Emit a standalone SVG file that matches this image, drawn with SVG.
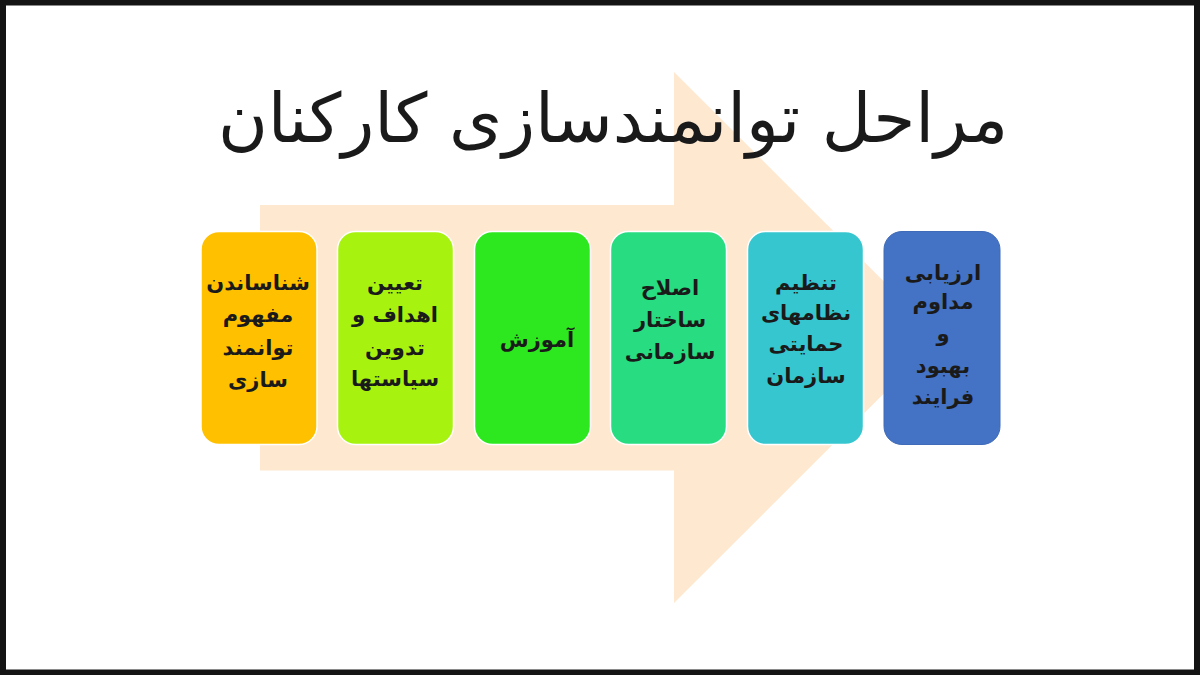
<svg xmlns="http://www.w3.org/2000/svg" width="1200" height="675" viewBox="0 0 1200 675">
<style>
.box{stroke:#ffffff;stroke-width:1.5}
.t{font-family:"DejaVu Sans","Noto Sans",sans-serif;font-weight:bold;font-size:21px;fill:#1a1a1a;text-anchor:middle;direction:rtl}
.title{font-family:"DejaVu Sans","Noto Sans",sans-serif;font-size:68px;fill:#1a1a1a;text-anchor:middle;direction:rtl}
</style>
<rect x="0" y="0" width="1200" height="675" fill="#ffffff"/>
<g id="arrow">
<polygon points="260,205 674,205 674,72 940,337.5 674,603 674,470.5 260,470.5" fill="#FEE8CF"/>
</g>
<g id="title">
<text class="title" x="613" y="142">مراحل توانمندسازی کارکنان</text>
</g>
<g id="connectors"></g>
<g id="step1">
<rect class="box" x="201" y="231.5" width="116" height="213" rx="18" fill="#FFC000"/>
<text class="t" x="258" y="290">شناساندن</text>
<text class="t" x="258" y="322">مفهوم</text>
<text class="t" x="258" y="355">توانمند</text>
<text class="t" x="258" y="387">سازی</text>
</g>
<g id="step2">
<rect class="box" x="337.5" y="231.5" width="116" height="213" rx="18" fill="#A8F20F"/>
<text class="t" x="395" y="290">تعیین</text>
<text class="t" x="395" y="322">اهداف و</text>
<text class="t" x="395" y="355">تدوین</text>
<text class="t" x="395" y="386">سیاستها</text>
</g>
<g id="step3">
<rect class="box" x="474.5" y="231.5" width="116" height="213" rx="18" fill="#2DE81E"/>
<text class="t" x="537" y="347">آموزش</text>
</g>
<g id="step4">
<rect class="box" x="610.5" y="231.5" width="116" height="213" rx="18" fill="#28DC82"/>
<text class="t" x="670" y="295">اصلاح</text>
<text class="t" x="670" y="327">ساختار</text>
<text class="t" x="670" y="359">سازمانی</text>
</g>
<g id="step5">
<rect class="box" x="747.5" y="231.5" width="116" height="213" rx="18" fill="#36C6CF"/>
<text class="t" x="806" y="290">تنظیم</text>
<text class="t" x="806" y="320">نظامهای</text>
<text class="t" x="806" y="351">حمایتی</text>
<text class="t" x="806" y="383">سازمان</text>
</g>
<g id="step6">
<rect x="884" y="231.5" width="116" height="213" rx="18" fill="#4472C4" stroke="#3F6BB8" stroke-width="1"/>
<text class="t" x="943" y="280">ارزیابی</text>
<text class="t" x="943" y="309">مداوم</text>
<text class="t" x="943" y="341">و</text>
<text class="t" x="943" y="373">بهبود</text>
<text class="t" x="943" y="404">فرایند</text>
</g>
<rect x="3" y="2.5" width="1194" height="670" fill="none" stroke="#141414" stroke-width="6"/>
</svg>
